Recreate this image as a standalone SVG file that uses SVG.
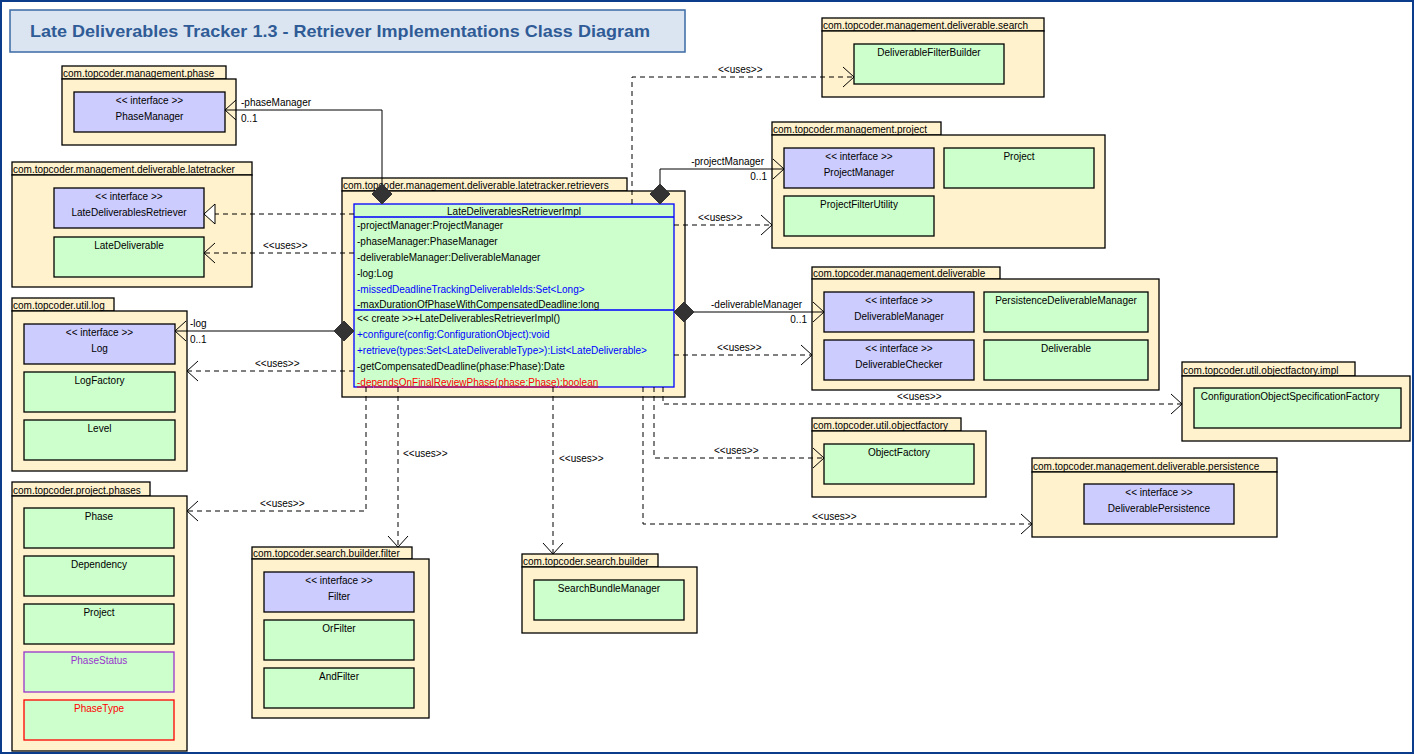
<svg xmlns="http://www.w3.org/2000/svg" width="1415" height="755" viewBox="0 0 1415 755">
<style>
text{font-family:"Liberation Sans",Arial,sans-serif;font-size:10px;fill:#000}
.c{text-anchor:middle}
.e{text-anchor:end}
.pkg{fill:#fff2cc;stroke:#000;stroke-width:1.3}
.cls{fill:#ccffcc;stroke:#000;stroke-width:1.3}
.ifc{fill:#ccccff;stroke:#000;stroke-width:1.3}
.con{fill:none;stroke:#000;stroke-width:1}
.dash{stroke-dasharray:5,4}
.dia{fill:#333;stroke:#333;stroke-width:1}
.blue{fill:#0000ff}
.red{fill:#ff0000}
</style>
<defs>
<marker id="open" markerUnits="userSpaceOnUse" markerWidth="14" markerHeight="24" refX="11.5" refY="11" orient="auto" overflow="visible">
<path d="M0.5,1 L11.5,11 L0.5,21" fill="none" stroke="#000" stroke-width="1"/>
</marker>
<marker id="tri" markerUnits="userSpaceOnUse" markerWidth="14" markerHeight="24" refX="11.5" refY="11" orient="auto" overflow="visible">
<path d="M0.5,1 L11.5,11 L0.5,21 Z" fill="#fff" stroke="#000" stroke-width="1"/>
</marker>
</defs>
<rect x="0" y="0" width="1415" height="755" fill="#fff"/>
<rect x="1" y="1" width="1412" height="752" fill="none" stroke="#0b3c8c" stroke-width="2"/>

<g id="title">
<rect x="10" y="10" width="675" height="42" fill="#dbe5f1" stroke="#3a6aa3" stroke-width="1.5"/>
<text x="340" y="37" class="c" style="font-size:17px;font-weight:bold;fill:#2f5b96" textLength="620" lengthAdjust="spacingAndGlyphs">Late Deliverables Tracker 1.3 - Retriever Implementations Class Diagram</text>
</g>

<g id="pkg-phase">
<rect class="pkg" x="62" y="66" width="164" height="13"/>
<rect class="pkg" x="62" y="79" width="174" height="66"/>
<text x="63" y="76.5">com.topcoder.management.phase</text>
<g id="PhaseManager"><rect class="ifc" x="74" y="92" width="151" height="40"/>
<text x="149.5" y="104" class="c">&lt;&lt; interface &gt;&gt;</text><text x="149.5" y="120" class="c">PhaseManager</text></g>
</g>

<g id="pkg-latetracker">
<rect class="pkg" x="12" y="162" width="240" height="13"/>
<rect class="pkg" x="12" y="175" width="240" height="112"/>
<text x="13" y="172.5">com.topcoder.management.deliverable.latetracker</text>
<g id="LateDeliverablesRetriever"><rect class="ifc" x="54" y="188" width="150" height="40"/>
<text x="129" y="200" class="c">&lt;&lt; interface &gt;&gt;</text><text x="129" y="216" class="c">LateDeliverablesRetriever</text></g>
<g id="LateDeliverable"><rect class="cls" x="54" y="237" width="150" height="40"/>
<text x="129" y="249" class="c">LateDeliverable</text></g>
</g>

<g id="pkg-log">
<rect class="pkg" x="12" y="298" width="102" height="13"/>
<rect class="pkg" x="12" y="311" width="175" height="160"/>
<text x="13" y="308.5">com.topcoder.util.log</text>
<g id="Log"><rect class="ifc" x="24" y="324" width="151" height="40"/>
<text x="99.5" y="336" class="c">&lt;&lt; interface &gt;&gt;</text><text x="99.5" y="352" class="c">Log</text></g>
<g id="LogFactory"><rect class="cls" x="24" y="372" width="151" height="40"/>
<text x="99.5" y="384" class="c">LogFactory</text></g>
<g id="Level"><rect class="cls" x="24" y="420" width="151" height="40"/>
<text x="99.5" y="432" class="c">Level</text></g>
</g>

<g id="pkg-phases">
<rect class="pkg" x="12" y="482" width="138" height="14"/>
<rect class="pkg" x="12" y="496" width="175" height="255"/>
<text x="13" y="493.5">com.topcoder.project.phases</text>
<g id="Phase"><rect class="cls" x="24" y="508" width="150" height="40"/><text x="99" y="520" class="c">Phase</text></g>
<g id="Dependency"><rect class="cls" x="24" y="556" width="150" height="40"/><text x="99" y="568" class="c">Dependency</text></g>
<g id="PhasesProject"><rect class="cls" x="24" y="604" width="150" height="40"/><text x="99" y="616" class="c">Project</text></g>
<g id="PhaseStatus"><rect class="cls" x="24" y="652" width="150" height="40" style="stroke:#9933cc"/><text x="99" y="664" class="c" style="fill:#9933cc">PhaseStatus</text></g>
<g id="PhaseType"><rect class="cls" x="24" y="700" width="150" height="40" style="stroke:#ff0000"/><text x="99" y="712" class="c red">PhaseType</text></g>
</g>

<g id="pkg-filter">
<rect class="pkg" x="252" y="547" width="160" height="12"/>
<rect class="pkg" x="252" y="559" width="177" height="159"/>
<text x="253" y="556.5">com.topcoder.search.builder.filter</text>
<g id="Filter"><rect class="ifc" x="264" y="572" width="150" height="40"/>
<text x="339" y="584" class="c">&lt;&lt; interface &gt;&gt;</text><text x="339" y="600" class="c">Filter</text></g>
<g id="OrFilter"><rect class="cls" x="264" y="620" width="150" height="40"/><text x="339" y="632" class="c">OrFilter</text></g>
<g id="AndFilter"><rect class="cls" x="264" y="668" width="150" height="40"/><text x="339" y="680" class="c">AndFilter</text></g>
</g>

<g id="pkg-searchbuilder">
<rect class="pkg" x="522" y="554" width="136" height="13"/>
<rect class="pkg" x="522" y="567" width="175" height="66"/>
<text x="523" y="564.5">com.topcoder.search.builder</text>
<g id="SearchBundleManager"><rect class="cls" x="534" y="580" width="150" height="40"/><text x="609" y="592" class="c">SearchBundleManager</text></g>
</g>

<g id="pkg-retrievers">
<rect class="pkg" x="342" y="178" width="285" height="13"/>
<rect class="pkg" x="342" y="191" width="343" height="206"/>
<text x="343" y="188.5">com.topcoder.management.deliverable.latetracker.retrievers</text>
<g id="LateDeliverablesRetrieverImpl">
<rect x="354" y="204" width="320" height="183" fill="#ccffcc" stroke="#0000ff" stroke-width="1.3"/>
<line x1="354" y1="217" x2="674" y2="217" stroke="#0000ff" stroke-width="1.3"/>
<line x1="354" y1="310" x2="674" y2="310" stroke="#0000ff" stroke-width="1.3"/>
<text x="514" y="214.5" class="c">LateDeliverablesRetrieverImpl</text>
<text x="357" y="228.5">-projectManager:ProjectManager</text>
<text x="357" y="244.5">-phaseManager:PhaseManager</text>
<text x="357" y="260.5">-deliverableManager:DeliverableManager</text>
<text x="357" y="276.5">-log:Log</text>
<text x="357" y="292.5" class="blue">-missedDeadlineTrackingDeliverableIds:Set&lt;Long&gt;</text>
<text x="357" y="308">-maxDurationOfPhaseWithCompensatedDeadline:long</text>
<text x="357" y="321.5">&lt;&lt; create &gt;&gt;+LateDeliverablesRetrieverImpl()</text>
<text x="357" y="337.5" class="blue">+configure(config:ConfigurationObject):void</text>
<text x="357" y="353.5" class="blue">+retrieve(types:Set&lt;LateDeliverableType&gt;):List&lt;LateDeliverable&gt;</text>
<text x="357" y="369.5">-getCompensatedDeadline(phase:Phase):Date</text>
<text x="357" y="385.5" class="red" text-decoration="underline">-dependsOnFinalReviewPhase(phase:Phase):boolean</text>
</g>
</g>

<g id="pkg-search">
<rect class="pkg" x="822" y="18" width="222" height="13"/>
<rect class="pkg" x="822" y="31" width="222" height="66"/>
<text x="823" y="28.5">com.topcoder.management.deliverable.search</text>
<g id="DeliverableFilterBuilder"><rect class="cls" x="854" y="44" width="150" height="40"/><text x="929" y="56" class="c">DeliverableFilterBuilder</text></g>
</g>

<g id="pkg-project">
<rect class="pkg" x="772" y="122" width="169" height="13"/>
<rect class="pkg" x="772" y="135" width="333" height="113"/>
<text x="773" y="132.5">com.topcoder.management.project</text>
<g id="ProjectManager"><rect class="ifc" x="784" y="148" width="150" height="40"/>
<text x="859" y="160" class="c">&lt;&lt; interface &gt;&gt;</text><text x="859" y="176" class="c">ProjectManager</text></g>
<g id="Project"><rect class="cls" x="944" y="148" width="150" height="40"/><text x="1019" y="160" class="c">Project</text></g>
<g id="ProjectFilterUtility"><rect class="cls" x="784" y="196" width="150" height="40"/><text x="859" y="208" class="c">ProjectFilterUtility</text></g>
</g>

<g id="pkg-deliverable">
<rect class="pkg" x="812" y="267" width="188" height="12"/>
<rect class="pkg" x="812" y="279" width="347" height="111"/>
<text x="813" y="276.5">com.topcoder.management.deliverable</text>
<g id="DeliverableManager"><rect class="ifc" x="824" y="292" width="150" height="40"/>
<text x="899" y="304" class="c">&lt;&lt; interface &gt;&gt;</text><text x="899" y="320" class="c">DeliverableManager</text></g>
<g id="PersistenceDeliverableManager"><rect class="cls" x="984" y="292" width="164" height="40"/><text x="1066" y="304" class="c">PersistenceDeliverableManager</text></g>
<g id="DeliverableChecker"><rect class="ifc" x="824" y="340" width="150" height="40"/>
<text x="899" y="352" class="c">&lt;&lt; interface &gt;&gt;</text><text x="899" y="368" class="c">DeliverableChecker</text></g>
<g id="Deliverable"><rect class="cls" x="984" y="340" width="164" height="40"/><text x="1066" y="352" class="c">Deliverable</text></g>
</g>

<g id="pkg-objectfactory">
<rect class="pkg" x="812" y="418" width="149" height="13"/>
<rect class="pkg" x="812" y="431" width="174" height="66"/>
<text x="813" y="428.5">com.topcoder.util.objectfactory</text>
<g id="ObjectFactory"><rect class="cls" x="824" y="444" width="150" height="40"/><text x="899" y="456" class="c">ObjectFactory</text></g>
</g>

<g id="pkg-ofimpl">
<rect class="pkg" x="1182" y="362" width="173" height="14"/>
<rect class="pkg" x="1182" y="376" width="228" height="65"/>
<text x="1183" y="373.5">com.topcoder.util.objectfactory.impl</text>
<g id="ConfigurationObjectSpecificationFactory"><rect class="cls" x="1194" y="388" width="207" height="40"/><text x="1290" y="400" class="c">ConfigurationObjectSpecificationFactory</text></g>
</g>

<g id="pkg-persistence">
<rect class="pkg" x="1032" y="458" width="245" height="14"/>
<rect class="pkg" x="1032" y="472" width="245" height="65"/>
<text x="1033" y="469.5">com.topcoder.management.deliverable.persistence</text>
<g id="DeliverablePersistence"><rect class="ifc" x="1084" y="484" width="150" height="40"/>
<text x="1159" y="496" class="c">&lt;&lt; interface &gt;&gt;</text><text x="1159" y="512" class="c">DeliverablePersistence</text></g>
</g>

<g id="connectors">
<path class="con dash" d="M354,214 L204,214" marker-end="url(#tri)"/>
<path class="con dash" d="M354,253 L204,253" marker-end="url(#open)"/>
<text x="263" y="249">&lt;&lt;uses&gt;&gt;</text>

<path class="con" d="M382,184 L382,110 L225,110" marker-end="url(#open)"/>
<polygon class="dia" points="382,184 392,194 382,204 372,194"/>
<text x="241" y="106">-phaseManager</text>
<text x="241" y="122">0..1</text>

<path class="con" d="M660,184 L660,169 L784,169" marker-end="url(#open)"/>
<polygon class="dia" points="660,184 670,194 660,204 650,194"/>
<text x="764" y="165" class="e">-projectManager</text>
<text x="767" y="180" class="e">0..1</text>

<path class="con dash" d="M632,204 L632,77 L854,77" marker-end="url(#open)"/>
<text x="718" y="73">&lt;&lt;uses&gt;&gt;</text>

<path class="con dash" d="M674,225 L772,225" marker-end="url(#open)"/>
<text x="698" y="221">&lt;&lt;uses&gt;&gt;</text>

<path class="con" d="M334,331 L175,331" marker-end="url(#open)"/>
<polygon class="dia" points="334,331 344,321 354,331 344,341"/>
<text x="190" y="327">-log</text>
<text x="190" y="343">0..1</text>

<path class="con dash" d="M354,371 L187,371" marker-end="url(#open)"/>
<text x="255" y="367">&lt;&lt;uses&gt;&gt;</text>

<path class="con" d="M694,312 L824,312" marker-end="url(#open)"/>
<polygon class="dia" points="674,312 684,302 694,312 684,322"/>
<text x="711" y="308">-deliverableManager</text>
<text x="807" y="323" class="e">0..1</text>

<path class="con dash" d="M674,355 L812,355" marker-end="url(#open)"/>
<text x="717" y="351">&lt;&lt;uses&gt;&gt;</text>

<path class="con dash" d="M663,387 L663,404 L1182,404" marker-end="url(#open)"/>
<text x="897" y="400">&lt;&lt;uses&gt;&gt;</text>

<path class="con dash" d="M654,387 L654,458 L824,458" marker-end="url(#open)"/>
<text x="714" y="454">&lt;&lt;uses&gt;&gt;</text>

<path class="con dash" d="M643,387 L643,524 L1032,524" marker-end="url(#open)"/>
<text x="812" y="520">&lt;&lt;uses&gt;&gt;</text>

<path class="con dash" d="M366,387 L366,511 L187,511" marker-end="url(#open)"/>
<text x="260" y="507">&lt;&lt;uses&gt;&gt;</text>

<path class="con dash" d="M398,387 L398,547" marker-end="url(#open)"/>
<text x="403" y="457">&lt;&lt;uses&gt;&gt;</text>

<path class="con dash" d="M553,387 L553,554" marker-end="url(#open)"/>
<text x="559" y="462">&lt;&lt;uses&gt;&gt;</text>
</g>
</svg>
